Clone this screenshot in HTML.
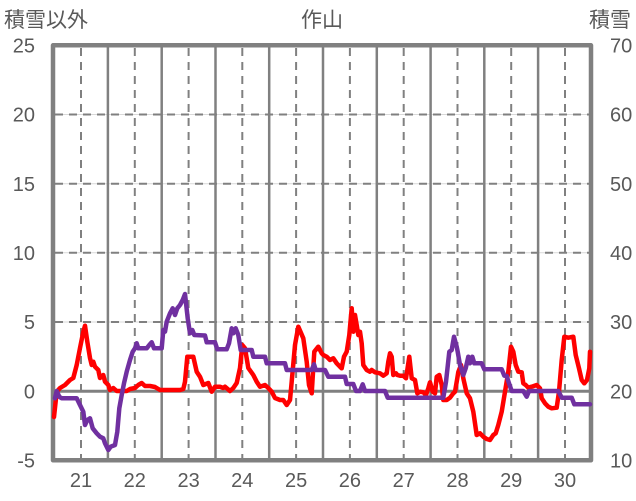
<!DOCTYPE html>
<html><head><meta charset="utf-8"><style>
html,body{margin:0;padding:0;background:#fff;}
svg{display:block;}
text{font-family:"Liberation Sans","Noto Sans CJK JP",sans-serif;fill:#595959;}
</style></head><body>
<svg width="636" height="501" viewBox="0 0 636 501" xmlns="http://www.w3.org/2000/svg">
<rect width="636" height="501" fill="#fff"/>
<!-- titles -->
<text x="4" y="27" font-size="21">積雪以外</text>
<text x="322" y="27" font-size="21" text-anchor="middle">作山</text>
<text x="589" y="27" font-size="21">積雪</text>
<!-- horizontal grid -->
<g>
<line x1="53" x2="591" y1="114.5" y2="114.5" stroke="#d9d9d9" stroke-width="1"/>
<line x1="53" x2="591" y1="183.7" y2="183.7" stroke="#d9d9d9" stroke-width="1"/>
<line x1="53" x2="591" y1="252.8" y2="252.8" stroke="#d9d9d9" stroke-width="1"/>
<line x1="53" x2="591" y1="322" y2="322" stroke="#d9d9d9" stroke-width="1"/>
</g>
<g stroke="#808080" stroke-width="2" stroke-dasharray="8,6">
<line x1="55" x2="591" y1="114.5" y2="114.5"/>
<line x1="55" x2="591" y1="183.7" y2="183.7"/>
<line x1="55" x2="591" y1="252.8" y2="252.8"/>
<line x1="55" x2="591" y1="322" y2="322"/>
</g>
<!-- vertical dashed (days) -->
<g stroke="#808080" stroke-width="2" stroke-dasharray="8,6">
<line x1="81" x2="81" y1="48" y2="458"/>
<line x1="134.8" x2="134.8" y1="48" y2="458"/>
<line x1="188.6" x2="188.6" y1="48" y2="458"/>
<line x1="242.3" x2="242.3" y1="48" y2="458"/>
<line x1="296.1" x2="296.1" y1="48" y2="458"/>
<line x1="349.9" x2="349.9" y1="48" y2="458"/>
<line x1="403.7" x2="403.7" y1="48" y2="458"/>
<line x1="457.5" x2="457.5" y1="48" y2="458"/>
<line x1="511.2" x2="511.2" y1="48" y2="458"/>
<line x1="565" x2="565" y1="48" y2="458"/>
</g>
<!-- vertical solid -->
<g stroke="#808080" stroke-width="2.5">
<line x1="107.9" x2="107.9" y1="45" y2="460"/>
<line x1="161.7" x2="161.7" y1="45" y2="460"/>
<line x1="215.5" x2="215.5" y1="45" y2="460"/>
<line x1="269.2" x2="269.2" y1="45" y2="460"/>
<line x1="323" x2="323" y1="45" y2="460"/>
<line x1="376.8" x2="376.8" y1="45" y2="460"/>
<line x1="430.6" x2="430.6" y1="45" y2="460"/>
<line x1="484.3" x2="484.3" y1="45" y2="460"/>
<line x1="538.1" x2="538.1" y1="45" y2="460"/>
</g>
<!-- zero line -->
<line x1="53" x2="591" y1="391.2" y2="391.2" stroke="#808080" stroke-width="3"/>
<!-- frame -->
<rect x="53" y="45.3" width="538" height="415" fill="none" stroke="#808080" stroke-width="4.5" stroke-linejoin="round"/>
<!-- red series -->
<polyline fill="none" stroke="#ff0000" stroke-width="4.5" stroke-linejoin="round" stroke-linecap="round" points="
54,417 56.7,391.7 60,388 65,385 70,380 73.3,378 76.7,365 80,348 83.3,331.7 85,325.7 87.3,341.7 90,358 91.7,365 93.3,361.7 95,366.7 98.3,370 100,378 103.3,375 105,381.7 108.3,385 110,390 113.3,388 116.7,391 126.7,391 130,389 135,388 138.3,385 141.7,383 145,386 150,386 155,387 160,390 180,390 183.3,389 185,381.7 187.3,356.7
193.3,356.7 196.7,371.7 200,376.7 203.3,385 208.3,383 211.7,391.7 215,386.7 220,386.7 223.3,388 225,386.7 230,391 233.3,388 236.7,383 240,368 242.3,345 245,348.3 248.3,368 253.3,375 256.7,381.7 260,386.7 265,385 268.3,388 271.7,391.7 275,398 280,400 283.3,400 286.7,405 290,400 291.7,381.7 295,345 298.3,326.7 303.3,338.3 306.7,361.7 309,385 311.7,393.3 314.3,351.7 318.3,346.7 321.7,353.3
323.3,355 326.7,356.7 330,360 333.3,358.3 336.7,363.3 340,366.7 341.7,368.3 344,356.7 346.7,351.7 349.3,335 351.7,308.3 353.3,331.7 355,315 356.7,325 358.3,335 360,331.7 361.7,343.3 363.3,365 366.7,370 370,371.7 371.7,370 375,372.3 380,373.3 383.3,375.7 386.7,373.3 388.3,361.7 390,353.3 391.7,356.7 393.3,375 396,373.3 397.3,375 400,375.7 403.3,375.7 406,378.3 407.3,370 409.3,356.7 411.7,378.3 415,380 417.3,393.3 420,391.7 423.3,392.3 426,395 428.3,388.3 430,382.3 432.7,391.7 435,393.3 436.7,376.7 439.3,375 441.7,385 443.3,400 446.7,400 450,397.7 453.3,393.3 455,391.7 457.3,378.3
458.3,372 461,365 463.3,378.3 466.7,393.3 470,398.3 473.3,411.7 476.7,435 480,433.3 483.3,436.7 486.7,439 490,440 493.3,435 495.7,433.3 498.3,425 501.7,411.7 505,391.7 508.3,371.7 511,346.7 513.3,351.7 515.7,365 518.3,371.7 521.7,372.3 523.3,383.3 525.7,385 528.3,387.7 531.7,386.7 536.7,385 540,388.3 541.7,398.3 545,403.3 548.3,406.7 551.7,408.3 556.7,407.7 559,391.7 561.7,360 564.3,336.7 568.3,337.7 573.3,336.7 575.7,355 579,368.3 581.7,380 584.3,383.3 587,380 589.3,368.3 590,351.7"/>
<!-- purple series -->
<polyline fill="none" stroke="#7030a0" stroke-width="4.5" stroke-linejoin="round" stroke-linecap="round" points="
55,398.3 56.7,391 59.3,396.7 61.7,398.3 76.7,398.3 80,405 83.3,411.7 85,425 87.3,420 90,418.3 92.7,428.3 96.7,433.3 100,436.7 103.3,438.3 105,443.3 108.3,450 110.7,446.7 115,445 117.3,431.7 119.3,408.3 121.7,395 124,383.3 126.7,371.7 130,360 132.7,351.7 135,348.3 136.7,343.3 138.3,348.3 146.7,348.3 149.3,345 151.7,342.3 154,348.3 161.7,348.3 163.3,330 165,331.7 166.7,321.7 170,313.3 172.7,308.3 175,315 177.3,308.3 180,305 182.7,300 185,294 187.7,318.3 190,333.3 192.3,330 194.3,335 205,335.5 206.7,342.3 215,342.3 217.3,349.3 226.7,349.3 229,343.3 231.7,328.3 233.3,333.3 235.7,328.3 238.3,335 240.7,350 251.7,350 253.3,356.7 265,356.7 266.7,363.3 285,363.3 286.7,370 311.7,370 314,364.3 315.7,370 325,370 328.3,376.7 345,376.7 346.7,384 353.3,384 356,391 360,391 362.7,384.3 365,391 385,391 387.7,397.7 443.3,397.7 446,381.7 449.3,351.7 451.7,350 454,336.7 456.7,346.7 457.7,351.7 460,365 463.3,375 465.7,368.3 468.3,356.7 470,363.3 472.3,356.7 474.3,363.3 481.7,363.3 484.3,369.3 501.7,369.3 504.3,375.7 506.7,376 509,383.3 511.7,391 523.3,391 526.7,396.7 529,391 558.3,391 561.7,397.7 571.7,397.7 574.3,404.3 590,404.3"/>
<!-- left axis labels -->
<g font-size="20" text-anchor="end">
<text x="35" y="52.5">25</text>
<text x="35" y="121.7">20</text>
<text x="35" y="190.9">15</text>
<text x="35" y="260">10</text>
<text x="35" y="329.2">5</text>
<text x="35" y="398.4">0</text>
<text x="35" y="467.7">-5</text>
</g>
<!-- right axis labels -->
<g font-size="20" text-anchor="start">
<text x="610" y="52.5">70</text>
<text x="610" y="121.7">60</text>
<text x="610" y="190.9">50</text>
<text x="610" y="260">40</text>
<text x="610" y="329.2">30</text>
<text x="610" y="398.4">20</text>
<text x="610" y="467.7">10</text>
</g>
<!-- x axis labels -->
<g font-size="20" text-anchor="middle">
<text x="81" y="487">21</text>
<text x="134.8" y="487">22</text>
<text x="188.6" y="487">23</text>
<text x="242.3" y="487">24</text>
<text x="296.1" y="487">25</text>
<text x="349.9" y="487">26</text>
<text x="403.7" y="487">27</text>
<text x="457.5" y="487">28</text>
<text x="511.2" y="487">29</text>
<text x="565" y="487">30</text>
</g>
</svg>
</body></html>
